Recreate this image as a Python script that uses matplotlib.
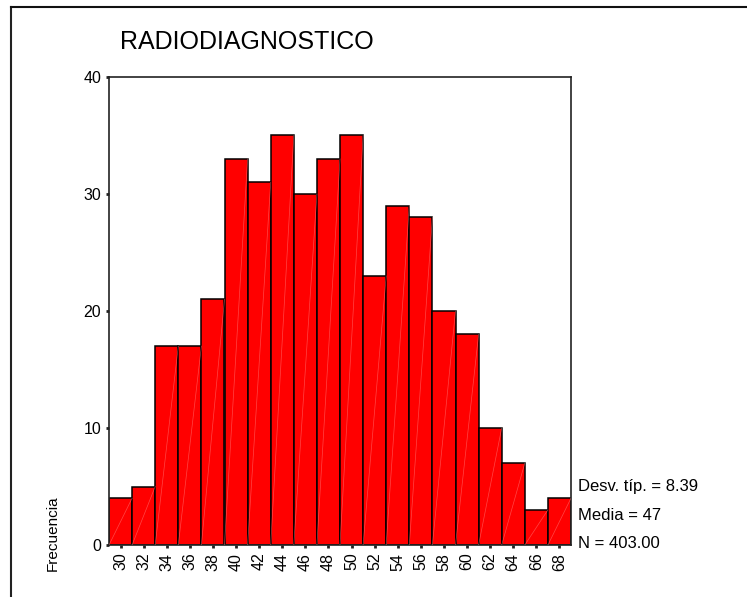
import matplotlib
matplotlib.use("Agg")
import matplotlib.pyplot as plt
from matplotlib.lines import Line2D

plt.rcParams['font.family'] = ['Liberation Sans', 'DejaVu Sans']

# Histogram data: bin centres and frequencies
bin_centers = [30, 32, 34, 36, 38, 40, 42, 44, 46, 48, 50, 52, 54, 56, 58, 60, 62, 64, 66, 68]
frequencies = [4, 5, 17, 17, 21, 33, 31, 35, 30, 33, 35, 23, 29, 28, 20, 18, 10, 7, 3, 4]
bin_width = 2
y_ticks = [0, 10, 20, 30, 40]

title = "RADIODIAGNOSTICO"
y_label = "Frecuencia"
stats_lines = ["Desv. típ. = 8.39", "Media = 47", "N = 403.00"]

W, H = 747, 597
fig = plt.figure(figsize=(W / 100, H / 100), dpi=100)

def fx(px):
    return px / W

def fy(py):
    return 1 - py / H

# Frame lines along the top and left edges
fig.add_artist(Line2D([fx(11), fx(11)], [fy(7), 0], transform=fig.transFigure,
                      color='#222222', lw=1.5))
fig.add_artist(Line2D([fx(11), 1], [fy(7), fy(7)], transform=fig.transFigure,
                      color='#111111', lw=1.5))

left, right, top, bottom = 109, 571, 77, 545
ax = fig.add_axes([fx(left), fy(bottom), fx(right - left), (bottom - top) / H])

lefts = [c - bin_width / 2 for c in bin_centers]
ax.bar(lefts, frequencies, width=bin_width, align='edge', color='#ff0000',
       edgecolor='black', linewidth=1.1, zorder=2)

# faint diagonal highlight across each bar
for l, h in zip(lefts, frequencies):
    ax.plot([l, l + bin_width], [0, h], color='#ff8080', lw=0.5, alpha=0.55, zorder=3)

ax.set_xlim(bin_centers[0] - bin_width / 2, bin_centers[-1] + bin_width / 2)
ax.set_ylim(0, 40)
ax.set_xticks(bin_centers)
ax.set_xticklabels([str(c) for c in bin_centers], rotation=90, fontsize=11.5)
ax.set_yticks(y_ticks)
ax.set_yticklabels([str(t) for t in y_ticks], fontsize=11.5)
ax.tick_params(axis='both', direction='out', length=2.5, width=2, color='#222222', pad=3)

for s in ax.spines.values():
    s.set_linewidth(1.2)
    s.set_color('#222222')

fig.text(fx(120), fy(42), title, fontsize=18, ha='left', va='center')
fig.text(fx(53), fy(533), y_label, fontsize=11, rotation=90, ha='center', va='center')

for txt, yp in zip(stats_lines, [486, 515, 543]):
    fig.text(fx(578), fy(yp), txt, fontsize=12, ha='left', va='center')

fig.savefig('out.png', dpi=100)
